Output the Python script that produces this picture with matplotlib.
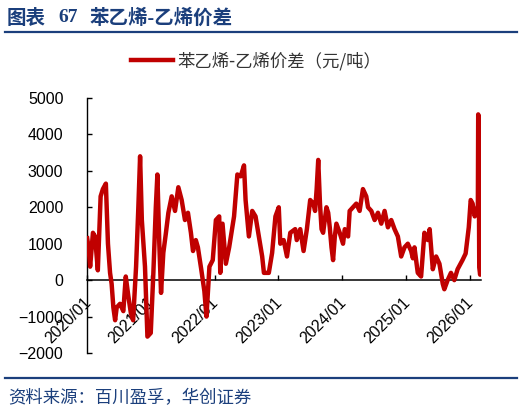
import matplotlib
matplotlib.use("Agg")
import matplotlib.pyplot as plt
import matplotlib.dates as mdates
from matplotlib.lines import Line2D
from matplotlib.transforms import ScaledTranslation
import pandas as pd

plt.rcParams['font.family'] = ['Liberation Sans', 'Noto Sans CJK SC']
plt.rcParams['axes.unicode_minus'] = True

# 苯乙烯-乙烯价差（元/吨）
dates = [
    # 2020
    "2020-01-02", "2020-01-10", "2020-01-19", "2020-02-04", "2020-02-16", "2020-03-03", "2020-03-19",
    "2020-04-01", "2020-04-18", "2020-04-30", "2020-05-12", "2020-05-21", "2020-05-31", "2020-06-10",
    "2020-06-19", "2020-07-08", "2020-07-27", "2020-08-10", "2020-08-25", "2020-09-08", "2020-09-21",
    "2020-10-08", "2020-10-21", "2020-10-31", "2020-11-10", "2020-11-28", "2020-12-12", "2020-12-31",
    # 2021
    "2021-01-15", "2021-01-29", "2021-02-07", "2021-02-18", "2021-02-28", "2021-03-13", "2021-03-28",
    "2021-04-11", "2021-04-30", "2021-05-19", "2021-06-07", "2021-06-26", "2021-07-15", "2021-08-01",
    "2021-08-18", "2021-08-30", "2021-09-15", "2021-09-27", "2021-10-16", "2021-11-03", "2021-11-15",
    "2021-12-02", "2021-12-21",
    # 2022
    "2022-01-08", "2022-01-27", "2022-02-02", "2022-02-15", "2022-03-06", "2022-03-25", "2022-04-22",
    "2022-05-11", "2022-05-30", "2022-06-18", "2022-06-27", "2022-07-16", "2022-08-04", "2022-08-23",
    "2022-09-11", "2022-09-30", "2022-10-10", "2022-11-07", "2022-11-26", "2022-12-15",
    # 2023
    "2023-01-03", "2023-01-12", "2023-01-31", "2023-02-19", "2023-03-10", "2023-04-07", "2023-04-16",
    "2023-05-06", "2023-05-25", "2023-06-13", "2023-07-02", "2023-07-20", "2023-07-30", "2023-08-08",
    "2023-08-17", "2023-08-27", "2023-09-05", "2023-09-14", "2023-10-03", "2023-10-13", "2023-10-22",
    "2023-11-01", "2023-11-10", "2023-11-20", "2023-11-29", "2023-12-18",
    # 2024
    "2024-01-06", "2024-01-16", "2024-02-04", "2024-02-13", "2024-03-03", "2024-03-22", "2024-04-10",
    "2024-04-29", "2024-05-18", "2024-05-28", "2024-06-16", "2024-07-05", "2024-07-24", "2024-08-12",
    "2024-08-31", "2024-09-19", "2024-10-08", "2024-10-27", "2024-11-15", "2024-12-04", "2024-12-23",
    # 2025
    "2025-01-11", "2025-01-30", "2025-02-09", "2025-02-18", "2025-03-09", "2025-03-28", "2025-04-16",
    "2025-05-05", "2025-05-16", "2025-06-03", "2025-06-22", "2025-07-11", "2025-07-30", "2025-08-08",
    "2025-08-27", "2025-09-15", "2025-10-04", "2025-10-23", "2025-11-20", "2025-12-08", "2025-12-26",
    # 2026
    "2026-01-06", "2026-01-17", "2026-01-29", "2026-02-09", "2026-02-16", "2026-02-18", "2026-02-20",
    "2026-02-24", "2026-03-01", "2026-03-04",
]
spread = [
    # 2020
    1150, 900, 370, 1300, 1200, 270, 2300,
    2500, 2650, 1000, 200, -100, -750, -1100,
    -750, -650, -850, 100, -450, -900, -1100,
    370, 2000, 3400, 1650, 370, -1550, -1450,
    # 2021
    200, 2000, 2900, 1000, -350, 750, 1300,
    1850, 2300, 1900, 2550, 2200, 1650, 1850,
    1300, 800, 1100, 900, 300, -300, -1000,
    370, 550,
    # 2022
    1650, 1750, 200, 1550, 450, 900, 1750,
    2900, 2850, 3150, 2200, 1200, 1900, 1750,
    1200, 650, 200, 200, 750, 1750,
    # 2023
    2000, 1000, 1100, 650, 1300, 1400, 1100,
    1400, 800, 1400, 2200, 2100, 1900, 2500,
    3300, 2100, 1400, 1300, 2000, 1850, 1450,
    900, 550, 1200, 1550, 1300,
    # 2024
    1000, 1400, 1200, 1900, 2000, 2100, 1900,
    2500, 2300, 2000, 1900, 1650, 1850, 1550,
    1900, 1450, 1650, 1400, 1200, 650, 900,
    # 2025
    1000, 800, 600, 900, 200, 100, 1300,
    1100, 1400, 300, 650, 450, -100, -250,
    0, 200, 0, 300, 550, 730, 1450,
    # 2026
    2200, 2100, 1750, 1950, 2000, 4550, 4500,
    350, 150, 400,
]
series_name = "苯乙烯-乙烯价差（元/吨）"

x = pd.to_datetime(dates)
navy = '#1B3F7C'

fig = plt.figure(figsize=(5.24, 4.12), dpi=100)
ax = fig.add_axes([87/524, 59/412, (481-87)/524, (353-98)/412])

ax.plot(x, spread, color="#C00000", linewidth=3.2, label=series_name,
        solid_joinstyle="round", zorder=3)

ax.set_ylim(-2000, 5000)
ax.set_yticks(range(-2000, 5001, 1000))
ax.set_xlim(pd.Timestamp("2020-01-01"), pd.Timestamp("2026-03-06"))
ax.xaxis.set_major_locator(mdates.YearLocator())
ax.xaxis.set_major_formatter(mdates.DateFormatter("%Y/%m"))

ax.spines['top'].set_visible(False)
ax.spines['right'].set_visible(False)
ax.spines['bottom'].set_position(('data', 0))
ax.spines['bottom'].set_linewidth(1.1)
ax.spines['left'].set_linewidth(1.0)
ax.tick_params(axis='both', direction='in', length=3.5, width=1.0, labelsize=11.5, colors='black')
ax.tick_params(axis='y', pad=17)
ax.tick_params(axis='x', pad=10.5)
shift = ScaledTranslation(-4/100, 0, fig.dpi_scale_trans)
for lab in ax.get_xticklabels():
    lab.set_rotation(45)
    lab.set_ha('right')
    lab.set_va('top')
    lab.set_rotation_mode('anchor')
    lab.set_transform(lab.get_transform() + shift)

leg = ax.legend(loc='center', bbox_to_anchor=(256/524, 1-61/412), bbox_transform=fig.transFigure,
                frameon=False, handlelength=2.4, handletextpad=0.25,
                prop={'family': 'Noto Sans CJK SC', 'size': 12.5})
for t in leg.get_texts():
    t.set_color('#333333')

# 标题和分隔线
title_font = ['Liberation Serif', 'Noto Sans CJK SC']
fig.text(7/524, 1-18/412, "图表", fontsize=14, fontweight='bold', color=navy,
         family=title_font, va='center', ha='left')
fig.text(58/524, 1-18/412, "67", fontsize=14, fontweight='bold', color=navy,
         family=title_font, va='center', ha='left')
fig.text(90/524, 1-18/412, "苯乙烯-乙烯价差", fontsize=14, fontweight='bold', color=navy,
         family=title_font, va='center', ha='left')
fig.add_artist(Line2D([5/524, 517/524], [1-32/412, 1-32/412], color=navy, linewidth=1.6))
fig.add_artist(Line2D([5/524, 517/524], [1-377.5/412, 1-377.5/412], color=navy, linewidth=1.6))
fig.text(8/524, 1-398/412, "资料来源：百川盈孚，华创证券", fontsize=12.5, style='italic',
         color=navy, family='Noto Sans CJK SC', va='center', ha='left')

fig.savefig("out.png", dpi=100)
